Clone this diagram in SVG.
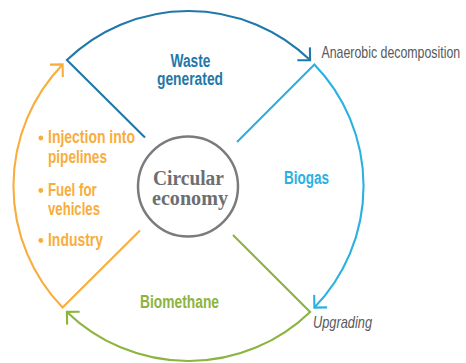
<svg xmlns="http://www.w3.org/2000/svg" width="466" height="363" viewBox="0 0 466 363">
  <style>
    .conn { fill: none; stroke-width: 2.1; stroke-linejoin: miter; stroke-linecap: butt; }
    .lbl { font-family: "Liberation Sans Narrow", "Liberation Sans", Arial, sans-serif; font-weight: bold; font-size: 18px; }
    .note { font-family: "Liberation Sans Narrow", "Liberation Sans", Arial, sans-serif; font-size: 17px; fill: #58595b; }
    .center { font-family: "Liberation Serif", "Times New Roman", serif; font-weight: bold; font-size: 20px; fill: #6d6e71; }
    .blue { fill: #1f78a9; }
    .cyan { fill: #29b1e1; }
    .green { fill: #8cb43e; }
    .orange { fill: #f8ad3c; }
  </style>
  <defs>
    <marker id="arr-blue" markerUnits="userSpaceOnUse" viewBox="-11 -11 13 22" refX="0" refY="0" markerWidth="13" markerHeight="22" orient="auto" overflow="visible">
      <path d="M-9,-9 L0,0 L-9,9" fill="none" stroke="#1f78a9" stroke-width="2.1"/>
    </marker>
    <marker id="arr-cyan" markerUnits="userSpaceOnUse" viewBox="-11 -11 13 22" refX="0" refY="0" markerWidth="13" markerHeight="22" orient="auto" overflow="visible">
      <path d="M-9,-9 L0,0 L-9,9" fill="none" stroke="#29b1e1" stroke-width="2.1"/>
    </marker>
    <marker id="arr-green" markerUnits="userSpaceOnUse" viewBox="-11 -11 13 22" refX="0" refY="0" markerWidth="13" markerHeight="22" orient="auto" overflow="visible">
      <path d="M-9,-9 L0,0 L-9,9" fill="none" stroke="#8cb43e" stroke-width="2.1"/>
    </marker>
    <marker id="arr-orange" markerUnits="userSpaceOnUse" viewBox="-11 -11 13 22" refX="0" refY="0" markerWidth="13" markerHeight="22" orient="auto" overflow="visible">
      <path d="M-9,-9 L0,0 L-9,9" fill="none" stroke="#f8ad3c" stroke-width="2.1"/>
    </marker>
  </defs>
  <rect width="466" height="363" fill="#ffffff"/>

  <g id="connectors">
    <path class="conn" stroke="#1f78a9" marker-end="url(#arr-blue)" d="M145,137.5 L66.9,60.1 A175,175 0 0 1 310.1,60.1"/>
    <path class="conn" stroke="#29b1e1" marker-end="url(#arr-cyan)" d="M237,142 L314.4,64.4 A175,175 0 0 1 314.4,307.6"/>
    <path class="conn" stroke="#8cb43e" marker-end="url(#arr-green)" d="M233,235 L310.1,311.9 A175,175 0 0 1 66.9,311.9"/>
    <path class="conn" stroke="#f8ad3c" marker-end="url(#arr-orange)" d="M140,230.5 L62.6,307.6 A175,175 0 0 1 62.6,64.4"/>
  </g>

  <g id="node-center">
    <circle cx="188" cy="186.5" r="50" fill="#ffffff" stroke="#7a7b7e" stroke-width="2.5"/>
    <text class="center" x="188.5" y="185" text-anchor="middle" textLength="71" lengthAdjust="spacingAndGlyphs">Circular</text>
    <text class="center" x="190" y="205" text-anchor="middle" textLength="76" lengthAdjust="spacingAndGlyphs">economy</text>
  </g>

  <g id="node-waste">
    <text class="lbl blue" x="190.5" y="66.5" text-anchor="middle" font-size="17.5" textLength="40" lengthAdjust="spacingAndGlyphs">Waste</text>
    <text class="lbl blue" x="190" y="85" text-anchor="middle" font-size="17.5" textLength="66" lengthAdjust="spacingAndGlyphs">generated</text>
  </g>

  <g id="node-biogas">
    <text class="lbl cyan" x="284" y="184.3" textLength="45" lengthAdjust="spacingAndGlyphs">Biogas</text>
  </g>

  <g id="node-biomethane">
    <text class="lbl green" x="140" y="308.3" textLength="79" lengthAdjust="spacingAndGlyphs">Biomethane</text>
  </g>

  <g id="node-uses">
    <circle class="orange" cx="40.8" cy="138" r="2.4"/>
    <text class="lbl orange" x="48" y="143.3" textLength="87" lengthAdjust="spacingAndGlyphs">Injection into</text>
    <text class="lbl orange" x="48" y="163.3" textLength="59" lengthAdjust="spacingAndGlyphs">pipelines</text>
    <circle class="orange" cx="40.8" cy="190.5" r="2.4"/>
    <text class="lbl orange" x="48" y="195.5" textLength="48.7" lengthAdjust="spacingAndGlyphs">Fuel for</text>
    <text class="lbl orange" x="48" y="214.5" textLength="52" lengthAdjust="spacingAndGlyphs">vehicles</text>
    <circle class="orange" cx="40.8" cy="240.5" r="2.4"/>
    <text class="lbl orange" x="48" y="246" textLength="55" lengthAdjust="spacingAndGlyphs">Industry</text>
  </g>

  <g id="label-anaerobic">
    <text class="note" transform="translate(321.5,58.3) scale(0.73,1)" x="0" y="0" textLength="190" lengthAdjust="spacingAndGlyphs">Anaerobic decomposition</text>
  </g>

  <g id="label-upgrading">
    <text class="note" x="313" y="327.7" font-style="italic" textLength="59" lengthAdjust="spacingAndGlyphs">Upgrading</text>
  </g>
</svg>
